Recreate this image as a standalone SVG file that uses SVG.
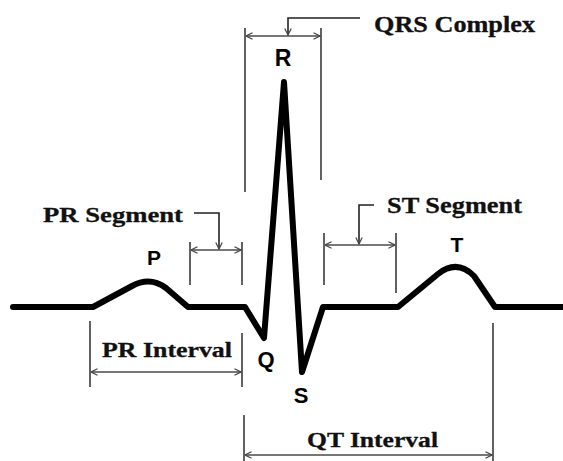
<svg xmlns="http://www.w3.org/2000/svg" width="563" height="461" viewBox="0 0 563 461">
<defs>
<marker id="ah" viewBox="0 0 8 8" refX="7.5" refY="4" markerWidth="8" markerHeight="8" markerUnits="userSpaceOnUse" orient="auto-start-reverse">
<path d="M1,0.8 L7.5,4 L1,7.2" fill="none" stroke="#444" stroke-width="1.2"/>
</marker>
<style>
.ecg{fill:none;stroke:#000;stroke-width:6;stroke-linejoin:round;stroke-linecap:round}
.dim{fill:none;stroke:#3a3a3a;stroke-width:1.6}
.arr{fill:none;stroke:#4a4a4a;stroke-width:1.4;marker-start:url(#ah);marker-end:url(#ah)}
.lead{fill:none;stroke:#222;stroke-width:1.6;marker-end:url(#ah)}
.lbl{font-family:"Liberation Serif","Times New Roman",serif;font-weight:bold;fill:#111;stroke:#111;stroke-width:0.3}
.wave{font-family:"Liberation Sans",Arial,sans-serif;font-weight:bold;fill:#000;text-anchor:middle}
</style>
</defs>
<g id="ecg-trace">
<path class="ecg" d="M13,307 L93,307 L132,286 Q150,276 166,288 L188,307 L245,307 L264,338 L284,82 L302,372 L323,307 L398,307 L438,274 Q457,259 474,276 L495,307 L563,307"/>
</g>
<g id="wave-labels">
<text class="wave" x="154" y="265" font-size="21">P</text>
<text class="wave" x="283" y="66" font-size="23">R</text>
<text class="wave" x="266" y="367" font-size="22">Q</text>
<text class="wave" x="301" y="403" font-size="22">S</text>
<text class="wave" x="457" y="252" font-size="21">T</text>
</g>
<g id="connectors">
<!-- QRS complex -->
<line class="dim" x1="245" y1="28" x2="245" y2="192"/>
<line class="dim" x1="321" y1="28" x2="321" y2="180"/>
<line class="arr" x1="246" y1="36" x2="320" y2="36"/>
<polyline class="lead" points="360,18 288,18 288,35"/>
<!-- PR segment -->
<line class="dim" x1="190" y1="242" x2="190" y2="285"/>
<line class="dim" x1="242" y1="242" x2="242" y2="285"/>
<line class="arr" x1="191" y1="250" x2="241" y2="250"/>
<polyline class="lead" points="194,213 219,213 219,249"/>
<!-- ST segment -->
<line class="dim" x1="324" y1="233" x2="324" y2="285"/>
<line class="dim" x1="396" y1="233" x2="396" y2="293"/>
<line class="arr" x1="325" y1="245" x2="395" y2="245"/>
<polyline class="lead" points="374,205 359,205 359,244"/>
<!-- PR interval -->
<line class="dim" x1="90" y1="321" x2="90" y2="387"/>
<line class="dim" x1="242" y1="333" x2="242" y2="387"/>
<line class="arr" x1="91" y1="372" x2="241" y2="372"/>
<!-- QT interval -->
<line class="dim" x1="244" y1="415" x2="244" y2="461"/>
<line class="dim" x1="493" y1="323" x2="493" y2="461"/>
<line class="arr" x1="245" y1="455" x2="492" y2="455"/>
</g>
<g id="interval-labels">
<text class="lbl" x="374" y="32" font-size="24" textLength="161" lengthAdjust="spacingAndGlyphs">QRS Complex</text>
<text class="lbl" x="43" y="222" font-size="22" textLength="140" lengthAdjust="spacingAndGlyphs">PR Segment</text>
<text class="lbl" x="387" y="213" font-size="23" textLength="135" lengthAdjust="spacingAndGlyphs">ST Segment</text>
<text class="lbl" x="102" y="357" font-size="21" textLength="130" lengthAdjust="spacingAndGlyphs">PR Interval</text>
<text class="lbl" x="307" y="447" font-size="22" textLength="131" lengthAdjust="spacingAndGlyphs">QT Interval</text>
</g>
</svg>
